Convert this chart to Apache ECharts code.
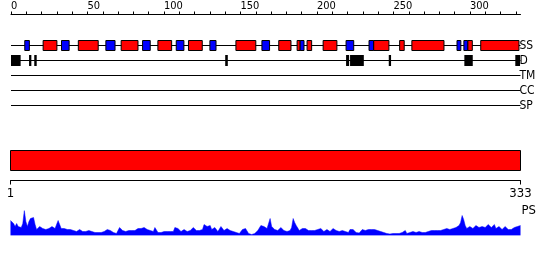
<!DOCTYPE html>
<html>
<head>
<meta charset="utf-8">
<script src="https://cdn.jsdelivr.net/npm/echarts@6/dist/echarts.min.js"></script>
<style>
html,body{margin:0;padding:0;background:#fff;}
#c{width:550px;height:260px;}
</style>
</head>
<body>
<div id="c"></div>
<script>
// ---- data ----
const seqLength = 333;
const topTicks = [0,10,20,30,40,50,60,70,80,90,100,110,120,130,140,150,160,170,180,190,200,210,220,230,240,250,260,270,280,290,300,310,320,330];
const topLabels = [0,50,100,150,200,250,300];
const bottomLabels = [1,333];
const rowNames = ['SS','D','TM','CC','SP'];
// secondary structure: helix (red) and strand (blue), [start, end]
const helix = [[21,30],[44,57],[72,83],[96,105],[116,125],[147,160],[175,183],[187,189],[193.5,196.5],[204,213],[237,247],[254,257],[262,283],[298.5,301.5],[307,332]];
const strand = [[9,12],[33,38],[62,68],[86,91],[108,113],[130,134],[164,169],[189,191.5],[219,224],[234,237],[291.5,294],[296,298.5]];
// disorder regions
const disorder = [[0,6.3],[11.8,13.3],[15.2,16.8],[140,141.7],[219,221],[221.6,230.6],[246.9,248.4],[296.3,301.8],[329.6,332.7]];
// full-length bar
const fullBar = [[1,333]];
// PS profile per residue
const psValues = [
15,13,12,9,12,9,10,8,12,25,
14,9,14,17,19,18,11,6,8,9,
7,7,6,6,7,7,8,9,7,7,
6,15,13,7,6,7,7,6,6,6,
5,5,4,4,5,6,4,4,5,4,
4,5,4,4,3,3,4,3,3,3,
3,4,6,6,5,5,4,3,3,2,
2,8,6,5,5,4,4,5,4,5,
6,5,6,7,9,7,6,8,9,6,
5,5,4,4,8,7,3,3,3,3,
4,5,4,5,4,6,4,8,6,7,
8,4,4,6,6,4,4,5,6,8,
6,5,5,5,4,6,11,10,9,10,
10,6,5,8,7,4,5,9,8,5,
6,7,7,5,4,4,3,3,3,2,
3,6,4,7,5,2,1.5,1,1.5,2,
3,5,7,10,11,9,8,7,9,17,
9,7,6,5,5,6,8,7,5,4,
4,4,5,8,17,13,10,8,5,5,
7,9,7,5,5,4,5,5,5,6,
6,7,7,5,4,5,6,5,4,5,
7,5,5,4,4,5,5,5,4,4,
3,6,7,6,6,3,2.5,2.5,3,6,
5,5,7,6,6,6,7,6,5,5,
4,4,3,3,2,2,2,1.5,1.5,2,
2,2,2,2,3,3,4,5,2,2,
3,3,4,4,3,3,4,4,3,3,
3,3,4,4,5,5,5,5,5,5,
5,5,6,6,7,6,6,5,7,8,
8,10,10,13,20,16,10,7,7,9,
8,7,7,10,9,8,9,9,9,8,
8,11,11,8,10,11,7,7,9,10,
6,6,9,9,6,6,6,7,8,6,
9,10,10
];
const residues = psValues.map((v, i) => String(i + 1));

// ---- chart ----
const FONT = '"DejaVu Sans Condensed", "DejaVu Sans", sans-serif';
const chart = echarts.init(document.getElementById('c'), null, {renderer: 'canvas'});

function boxRenderer(fill, stroke, h) {
  return function (params, api) {
    const s = api.coord([api.value(0), api.value(2)]);
    const e = api.coord([api.value(1), api.value(2)]);
    return {
      type: 'rect',
      shape: {x: s[0], y: s[1] - h / 2, width: e[0] - s[0], height: h},
      style: stroke ? {fill: fill, stroke: stroke, lineWidth: 1} : {fill: fill}
    };
  };
}

const rowLines = rowNames.map((n, r) => ({
  type: 'line', xAxisIndex: 0, yAxisIndex: 0, silent: true, z: 1,
  symbol: 'none', lineStyle: {color: '#000', width: 1},
  data: [[0, r], [seqLength, r]]
}));

const option = {
  animation: false,
  grid: [
    {left: 11, width: 509.5, top: 15.5, height: 105, outerBoundsMode: 'none', containLabel: false},
    {left: 10.5, width: 510, top: 150.5, height: 20, outerBoundsMode: 'none', containLabel: false},
    {left: 10.5, width: 510, top: 210.5, height: 25, outerBoundsMode: 'none', containLabel: false}
  ],
  xAxis: [
    {
      gridIndex: 0, type: 'value', min: 0, max: seqLength, position: 'top', offset: 1,
      axisLine: {show: true, onZero: false, lineStyle: {color: '#000', width: 1}},
      axisTick: {show: true, inside: false, length: 3, customValues: topTicks, lineStyle: {color: '#000'}},
      axisLabel: {show: true, customValues: topLabels, align: 'left', margin: 3, color: '#000', fontSize: 11, fontFamily: FONT},
      splitLine: {show: false}
    },
    {
      gridIndex: 1, type: 'value', min: 1, max: seqLength, position: 'bottom', offset: 10,
      axisLine: {show: true, onZero: false, lineStyle: {color: '#000', width: 1}},
      axisTick: {show: true, inside: false, length: 4, customValues: bottomLabels, lineStyle: {color: '#000'}},
      axisLabel: {show: true, customValues: bottomLabels, margin: 7, color: '#000', fontSize: 13, fontFamily: FONT},
      splitLine: {show: false}
    },
    {
      gridIndex: 2, type: 'category', data: residues, boundaryGap: false, show: false,
      axisLine: {onZero: false}
    }
  ],
  yAxis: [
    {
      gridIndex: 0, type: 'value', inverse: true, min: -2, max: 5, interval: 1, position: 'right',
      axisLine: {show: false, onZero: false}, axisTick: {show: false}, splitLine: {show: false},
      axisLabel: {
        show: true, margin: -1, align: 'left', color: '#000', fontSize: 12, fontFamily: FONT,
        formatter: v => rowNames[v] || ''
      }
    },
    {gridIndex: 1, type: 'value', min: 0, max: 1, show: false, axisLine: {onZero: false}},
    {
      gridIndex: 2, type: 'value', min: 0, max: 25, position: 'right',
      name: 'PS', nameLocation: 'end', nameGap: 0,
      nameTextStyle: {align: 'left', verticalAlign: 'middle', color: '#000', fontSize: 13, fontFamily: FONT, padding: [0, 0, 0, 1]},
      axisLine: {show: false, onZero: false}, axisTick: {show: false}, axisLabel: {show: false}, splitLine: {show: false}
    }
  ],
  series: rowLines.concat([
    {
      type: 'custom', xAxisIndex: 0, yAxisIndex: 0, z: 3, silent: true,
      renderItem: boxRenderer('#ff0000', '#000', 10),
      data: helix.map(d => [d[0], d[1], 0])
    },
    {
      type: 'custom', xAxisIndex: 0, yAxisIndex: 0, z: 3, silent: true,
      renderItem: boxRenderer('#0000ff', '#000', 10),
      data: strand.map(d => [d[0], d[1], 0])
    },
    {
      type: 'custom', xAxisIndex: 0, yAxisIndex: 0, z: 3, silent: true,
      renderItem: boxRenderer('#000', null, 11),
      data: disorder.map(d => [d[0], d[1], 1])
    },
    {
      type: 'custom', xAxisIndex: 1, yAxisIndex: 1, silent: true,
      renderItem: function (params, api) {
        const a = api.coord([api.value(0), 1]);
        const b = api.coord([api.value(1), 0]);
        return {type: 'rect', shape: {x: a[0], y: a[1], width: b[0] - a[0], height: b[1] - a[1]},
                style: {fill: '#ff0000', stroke: '#000', lineWidth: 1}};
      },
      data: fullBar
    },
    {
      type: 'line', xAxisIndex: 2, yAxisIndex: 2, silent: true,
      symbol: 'none', data: psValues,
      lineStyle: {color: '#0000ff', width: 0.5},
      areaStyle: {color: '#0000ff', opacity: 1}
    }
  ])
};
chart.setOption(option);
</script>
</body>
</html>
